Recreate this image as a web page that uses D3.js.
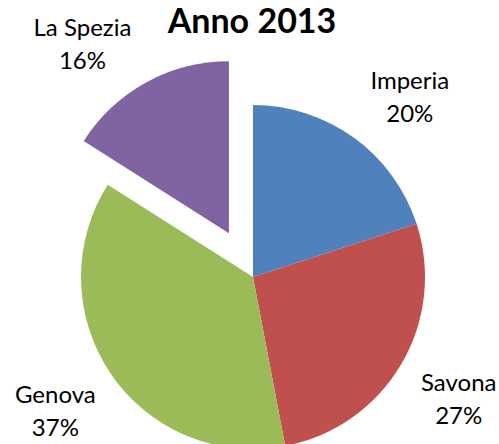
<!DOCTYPE html>
<html>
<head>
  <meta charset="UTF-8">
  <title>Anno 2013</title>
  <script src="https://d3js.org/d3.v7.min.js"></script>
  <style>
    body { margin: 0; background: #fff; }
    text { font-family: Lato, "Open Sans", sans-serif; fill: #000; }
    .title { font-weight: bold; font-size: 34px; }
    .lbl { font-size: 24px; }
  </style>
</head>
<body>
  <svg width="499" height="444"></svg>
  <script>
    // data
    var provinces = ["Imperia", "Savona", "Genova", "La Spezia"]
    var shares = [20, 27, 37, 16]
    var colors = ["#4f81bd", "#c0504d", "#9bbb59", "#8064a2"]
    var exploded = ["La Spezia"]

    var svg = d3.select("svg"),
        cx = 253, cy = 277,
        radius = 172,
        explode = 50,
        labelR = 239

    // Excel nudges two labels sideways to keep them off the title
    var labelTurn = { "Imperia": 5, "La Spezia": -9 }

    var data = provinces.map(function(p, i) {
      return { name: p, value: shares[i], color: colors[i] }
    })

    var pie = d3.pie().sort(null).value(function(d) { return d.value })
    var arc = d3.arc().innerRadius(0).outerRadius(radius)

    var g = svg.append("g").attr("transform", "translate(" + cx + "," + cy + ")")

    var slices = g.selectAll(".slice")
      .data(pie(data))
      .enter().append("g")
      .attr("class", "slice")
      .attr("transform", function(d) {
        if (exploded.indexOf(d.data.name) < 0) return null
        var a = (d.startAngle + d.endAngle) / 2
        return "translate(" + (Math.sin(a) * explode) + "," + (-Math.cos(a) * explode) + ")"
      })

    slices.append("path")
      .attr("d", arc)
      .attr("fill", function(d) { return d.data.color })

    var total = d3.sum(shares)
    var lbl = slices.append("text")
      .attr("class", "lbl")
      .attr("text-anchor", "middle")
      .attr("transform", function(d) {
        var a = (d.startAngle + d.endAngle) / 2 + (labelTurn[d.data.name] || 0) * Math.PI / 180
        return "translate(" + (Math.sin(a) * labelR) + "," + (-Math.cos(a) * labelR) + ")"
      })

    lbl.append("tspan").attr("x", 0).attr("y", -8)
      .text(function(d) { return d.data.name })
    lbl.append("tspan").attr("x", 0).attr("y", 25)
      .text(function(d) { return Math.round(d.data.value / total * 100) + "%" })

    svg.append("text")
      .attr("class", "title")
      .attr("x", 252)
      .attr("y", 33)
      .attr("text-anchor", "middle")
      .text("Anno 2013")
  </script>
</body>
</html>
